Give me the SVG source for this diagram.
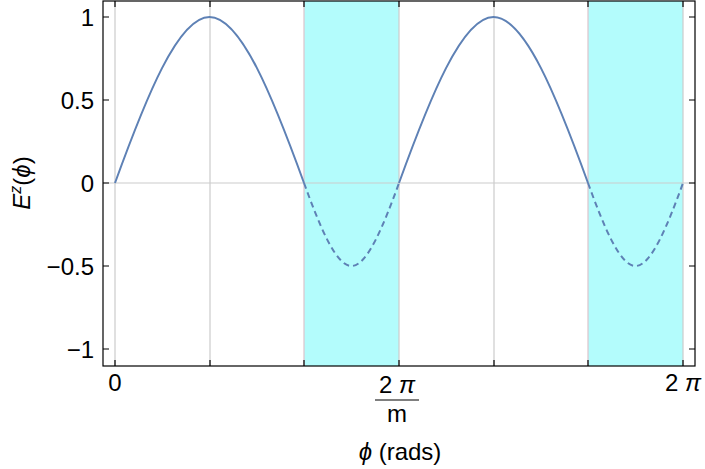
<svg xmlns="http://www.w3.org/2000/svg" width="705" height="469" viewBox="0 0 705 469">
<style>
.g{stroke:#cccccc;stroke-width:1.2;fill:none}
.pk{stroke:#dcc4cc;stroke-width:1.2;fill:none}
.c{stroke:#5e81b5;stroke-width:2;fill:none}
.d{stroke:#5e81b5;stroke-width:2;fill:none;stroke-dasharray:6,4}
.t{font-family:"Liberation Sans",Arial,sans-serif;font-size:24px;fill:#000}
.ax{stroke:#000;stroke-width:1.2;fill:none}
</style>
<rect width="705" height="469" fill="#fff"/>
<g id="shading">
<rect x="304" y="1" width="95" height="365" fill="#b3fcfc"/>
<rect x="588" y="1" width="95" height="365" fill="#b3fcfc"/>
</g>
<g id="grid">
<path class="g" d="M115,1V366M210,1V366M494,1V366M399,1V366M683,1V366M103,183H695"/>
<path class="pk" d="M304,1V366M588,1V366"/>
</g>
<g id="connectors">
<path class="c" d="M115,183C145.8,98 178.1,17 209.5,17C240.9,17 273.2,98 304,183"/>
<path class="d" d="M304,183C319.5,225.5 335.7,266 351.5,266C367.3,266 383.5,225.5 399,183"/>
<path class="c" d="M399,183C429.8,98 462.1,17 493.5,17C524.9,17 557.2,98 588,183"/>
<path class="d" d="M588,183C603.5,225.5 619.7,266 635.5,266C651.3,266 667.5,225.5 683,183"/>
</g>
<g id="frame">
<rect class="ax" x="103" y="1" width="592" height="365"/>
<path class="ax" d="M115,366v-6M210,366v-6M304,366v-6M399,366v-6M494,366v-6M588,366v-6M683,366v-6M115,1v6M210,1v6M304,1v6M399,1v6M494,1v6M588,1v6M683,1v6M103,17h6M103,100h6M103,183h6M103,266h6M103,349h6M695,17h-6M695,100h-6M695,183h-6M695,266h-6M695,349h-6"/>
</g>
<g id="labels" class="t">
<text x="94" y="26" text-anchor="end">1</text>
<text x="94" y="109" text-anchor="end">0.5</text>
<text x="94" y="192" text-anchor="end">0</text>
<text x="94" y="275" text-anchor="end">−0.5</text>
<text x="94" y="358" text-anchor="end">−1</text>
<text x="115" y="391" text-anchor="middle">0</text>
<text x="397" y="393" text-anchor="middle">2 <tspan font-style="italic">π</tspan></text>
<path class="ax" d="M375,400H419" stroke-width="1.6"/>
<text x="397" y="422" text-anchor="middle">m</text>
<text x="683" y="391" text-anchor="middle">2 <tspan font-style="italic">π</tspan></text>
<text x="400" y="460" text-anchor="middle"><tspan font-style="italic">ϕ</tspan> (rads)</text>
<text transform="translate(30,183) rotate(-90)" text-anchor="middle"><tspan font-style="italic">E</tspan><tspan font-size="16" dy="-9" font-style="italic">z</tspan><tspan dy="9">(</tspan><tspan font-style="italic">ϕ</tspan>)</text>
</g>
</svg>
